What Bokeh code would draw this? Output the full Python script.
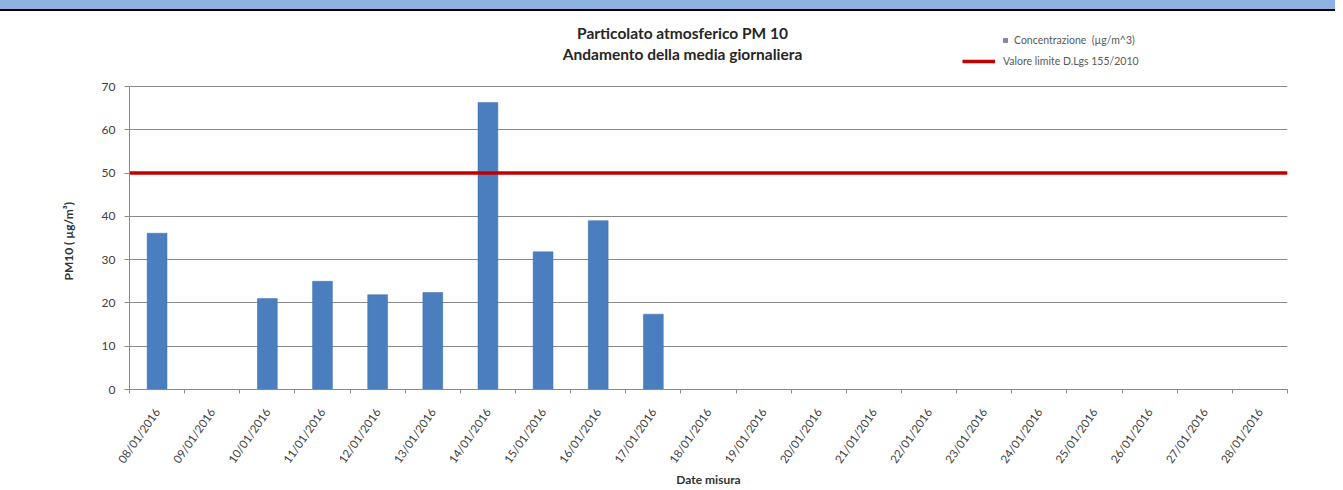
from bokeh.plotting import figure
from bokeh.models import (FactorRange, Range1d, LinearAxis, CategoricalAxis, FixedTicker,
                          Label, Legend, LegendItem, ColumnDataSource, Title, Div)
from bokeh.layouts import column
from bokeh.embed import file_html
from bokeh.resources import INLINE
import math

# ---- data ----
dates = ["08/01/2016", "09/01/2016", "10/01/2016", "11/01/2016", "12/01/2016", "13/01/2016",
         "14/01/2016", "15/01/2016", "16/01/2016", "17/01/2016", "18/01/2016", "19/01/2016",
         "20/01/2016", "21/01/2016", "22/01/2016", "23/01/2016", "24/01/2016", "25/01/2016",
         "26/01/2016", "27/01/2016", "28/01/2016"]
nan = float("nan")
concentrazione = [36.1, nan, 21.0, 25.0, 21.9, 22.4, 66.3, 31.8, 39.0, 17.4,
                  nan, nan, nan, nan, nan, nan, nan, nan, nan, nan, nan]
limit_value = 50
y_ticks = [0, 10, 20, 30, 40, 50, 60, 70]
title_lines = ["Particolato atmosferico PM 10", "Andamento della media giornaliera"]
series_labels = ["Concentrazione  (µg/m^3)", "Valore limite D.Lgs 155/2010"]
y_label = "PM10 ( µg/m³)"
x_label = "Date misura"

FONT = "Lato"
GRID = "#8a8a8a"
TXT = "#404040"

# layout (pixels)
HDR = 11                         # coloured header strip of the source document (incl. rule)
W, H = 1335, 490 - HDR
LEFT, RIGHT, BOTTOM = 129, 48, 101
FRAME_H = H - BOTTOM             # frame spans up to the top so titles/legend are not clipped
AXIS_TOP_PX = 86 - HDR           # where the value 70 sits (figure coords)
y_max = y_ticks[-1]
y_end = y_max * FRAME_H / (FRAME_H - AXIS_TOP_PX)

p = figure(width=W, height=H, x_range=FactorRange(*dates, range_padding=0),
           y_range=Range1d(0, y_end), output_backend="svg", toolbar_location=None,
           x_axis_location=None, y_axis_location="left",
           min_border_left=LEFT, min_border_right=RIGHT, min_border_top=0,
           min_border_bottom=BOTTOM)
p.outline_line_color = None
p.xgrid.grid_line_color = None
p.ygrid.grid_line_color = GRID
p.ygrid.ticker = FixedTicker(ticks=y_ticks)
p.background_fill_color = "white"
p.border_fill_color = "white"

# y axis
ya = p.yaxis[0]
ya.ticker = FixedTicker(ticks=y_ticks)
ya.bounds = (0, y_max)
ya.axis_line_color = GRID
ya.major_tick_line_color = GRID
ya.major_tick_out = 5
ya.major_tick_in = 0
ya.minor_tick_line_color = None
ya.major_label_text_font = FONT
ya.major_label_text_font_size = "12px"
ya.major_label_text_color = TXT
ya.major_label_standoff = 9

# y axis title, centred on the 0-70 part of the axis
ytitle_kw = dict(text=y_label, align="left", offset=109, text_font=FONT,
                 text_font_size="12px", text_font_style="bold", text_color="#333333")
if "standoff" in Title.properties():
    ytitle_kw["standoff"] = 46
p.add_layout(Title(**ytitle_kw), "left")

# edge ticks axis (ticks between categories, in synthetic category coordinates)
n = len(dates)
edge_axis = LinearAxis(ticker=FixedTicker(ticks=list(range(n + 1))),
                       axis_line_color=GRID, major_tick_line_color=GRID,
                       major_tick_out=4, major_tick_in=0, minor_tick_line_color=None,
                       major_label_text_font_size="0px", major_label_standoff=0)
p.add_layout(edge_axis, "below")

cat_axis = CategoricalAxis(axis_line_color=None, major_tick_line_color=None,
                           major_tick_out=0, major_tick_in=0,
                           major_label_orientation=math.radians(55),
                           major_label_text_font=FONT, major_label_text_font_size="11.5px",
                           major_label_text_color=TXT, major_label_standoff=16,
                           axis_label=x_label, axis_label_text_font=FONT,
                           axis_label_text_font_size="12px", axis_label_text_font_style="bold",
                           axis_label_text_color="#333333", axis_label_standoff=0)
p.add_layout(cat_axis, "below")

# bars
src = ColumnDataSource(dict(x=dates, top=concentrazione))
bars = p.vbar(x="x", top="top", width=0.36, source=src, fill_color="#4a7ebf",
              line_color="#3f6fa8", line_width=0.5)

# limit line across the full category span
limit_line = p.line(x=[0, n], y=[limit_value, limit_value],
                    line_color="#c00000", line_width=3.5)

# legend marker for bars (grey square as in the original legend); nothing drawn in the plot
leg_marker = p.scatter(x=[dates[0]], y=[nan], marker="square", size=6,
                       fill_color="#8585a0", line_color="#8585a0")

leg1 = Legend(items=[LegendItem(label=series_labels[0], renderers=[leg_marker])],
              location=(871, 343), glyph_width=10, glyph_height=12, label_height=12,
              label_standoff=4, padding=0, margin=0, spacing=0,
              background_fill_alpha=0, border_line_color=None,
              label_text_font=FONT, label_text_font_size="10.5px", label_text_color="#595959")
leg2 = Legend(items=[LegendItem(label=series_labels[1], renderers=[limit_line])],
              location=(833, 322), glyph_width=33, glyph_height=12, label_height=12,
              label_standoff=8, padding=0, margin=0, spacing=0,
              background_fill_alpha=0, border_line_color=None,
              label_text_font=FONT, label_text_font_size="10.5px", label_text_color="#595959")
p.add_layout(leg1)
p.add_layout(leg2)

# chart titles
for i, t in enumerate(title_lines):
    p.add_layout(Label(x=553, y=357 - 21 * i, x_units="screen", y_units="screen", text=t,
                       text_align="center", text_baseline="middle", text_font=FONT,
                       text_font_size="15.5px", text_font_style="bold", text_color="#262626"))

header = Div(text="", width=W, height=HDR, margin=0,
             styles={"background-color": "#8db3e2", "border-bottom": "2px solid #000000"})
layout = column(header, p, spacing=0)

open("out.html", "w").write(file_html(layout, INLINE))
